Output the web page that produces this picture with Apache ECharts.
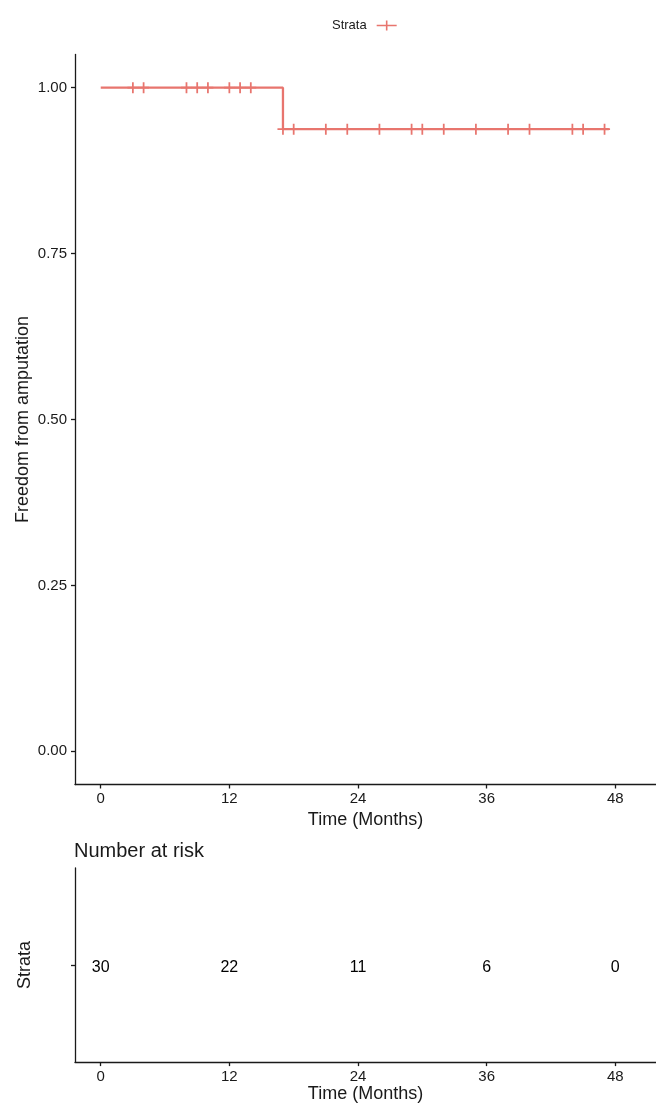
<!DOCTYPE html>
<html>
<head>
<meta charset="utf-8">
<script src="https://cdn.jsdelivr.net/npm/echarts@6/dist/echarts.min.js"></script>
<style>
  html, body { margin: 0; padding: 0; background: #fff; }
  #main { width: 656px; height: 1104px; }
</style>
</head>
<body>
<div id="main"></div>
<script>
// KM step curve (time in months, survival)
var survTimes = [0, 17, 47.4];
var survValues = [1, 0.9375, 0.9375];
// censored observations
var censorTimes = [3, 4, 8, 9, 10, 12, 13, 14, 17, 18, 21, 23, 26, 29, 30, 32, 35, 38, 40, 44, 45, 47];
// number at risk table
var riskTimes = [0, 12, 24, 36, 48];
var riskCounts = [30, 22, 11, 6, 0];
var xTicks = [0, 12, 24, 36, 48];
var yTicks = [0, 0.25, 0.5, 0.75, 1];

var red = '#E8756E';
var ink = '#1a1a1a';
var font = 'Liberation Sans, Arial, Helvetica, sans-serif';

function survAt(t) {
  var s = survValues[0];
  for (var i = 0; i < survTimes.length; i++) {
    if (survTimes[i] <= t) s = survValues[i];
  }
  return s;
}

var curve = survTimes.map(function (t, i) { return [t, survValues[i]]; });
var censors = censorTimes.map(function (t) { return [t, survAt(t)]; });
var risk = riskTimes.map(function (t, i) { return [t, 1, riskCounts[i]]; });

var plusMark = 'path://M0,4.2 L10,4.2 L10,5.8 L0,5.8 Z M4.2,0 L5.8,0 L5.8,10 L4.2,10 Z';
var legendMark = 'path://M0,4.2 L20,4.2 L20,5.8 L0,5.8 Z M9.2,0 L10.8,0 L10.8,10 L9.2,10 Z';

function xAxisFor(gridIndex, gap) {
  return {
    gridIndex: gridIndex,
    type: 'value',
    min: -2.4,
    max: 51.8,
    name: 'Time (Months)',
    nameLocation: 'middle',
    nameGap: gap,
    nameTextStyle: { color: ink, fontSize: 18, fontFamily: font },
    axisLine: { show: true, onZero: false, lineStyle: { color: ink, width: 1.3 } },
    axisTick: { show: true, length: 4, customValues: xTicks, lineStyle: { color: ink, width: 1.3 } },
    axisLabel: { customValues: xTicks, margin: 7, color: ink, fontSize: 15, fontFamily: font },
    splitLine: { show: false }
  };
}

var chart = echarts.init(document.getElementById('main'));

var option = {
  animation: false,
  backgroundColor: '#fff',
  title: {
    text: 'Number at risk',
    left: 69,
    top: 836,
    textStyle: { color: ink, fontSize: 20, fontWeight: 'normal', fontFamily: font }
  },
  legend: {
    data: ['Strata'],
    left: 327,
    top: 14,
    align: 'right',
    itemWidth: 20,
    itemHeight: 10,
    icon: legendMark,
    itemStyle: { color: red, opacity: 1 },
    textStyle: { color: ink, fontSize: 13, fontFamily: font, padding: [0, 5, 0, 0] }
  },
  grid: [
    { left: 75, right: 0, top: 54.5, height: 730 },
    { left: 75, right: 0, top: 868, height: 195 }
  ],
  xAxis: [xAxisFor(0, 26), xAxisFor(1, 22)],
  yAxis: [
    {
      gridIndex: 0,
      type: 'value',
      min: -0.05,
      max: 1.05,
      name: 'Freedom from amputation',
      nameLocation: 'middle',
      nameGap: 43,
      nameMoveOverlap: false,
      nameTextStyle: { color: ink, fontSize: 18, fontFamily: font },
      axisLine: { show: true, onZero: false, lineStyle: { color: ink, width: 1.3 } },
      axisTick: { show: true, length: 4, customValues: yTicks, lineStyle: { color: ink, width: 1.3 } },
      axisLabel: {
        customValues: yTicks, margin: 8, color: ink, fontSize: 15, fontFamily: font,
        formatter: function (v) { return v.toFixed(2); }
      },
      splitLine: { show: false }
    },
    {
      gridIndex: 1,
      type: 'value',
      min: 0,
      max: 2,
      name: 'Strata',
      nameLocation: 'middle',
      nameGap: 41,
      nameTextStyle: { color: ink, fontSize: 18, fontFamily: font },
      axisLine: { show: true, onZero: false, lineStyle: { color: ink, width: 1.3 } },
      axisTick: { show: true, length: 4, customValues: [1], lineStyle: { color: ink, width: 1.3 } },
      axisLabel: { show: false },
      splitLine: { show: false }
    }
  ],
  series: [
    {
      name: 'Strata',
      type: 'line',
      xAxisIndex: 0,
      yAxisIndex: 0,
      step: 'end',
      data: curve,
      showSymbol: false,
      color: red,
      lineStyle: { color: red, width: 2.3 }
    },
    {
      name: 'censor',
      type: 'scatter',
      xAxisIndex: 0,
      yAxisIndex: 0,
      data: censors,
      symbol: plusMark,
      symbolSize: 11,
      itemStyle: { color: red, opacity: 1 }
    },
    {
      name: 'risk',
      type: 'scatter',
      xAxisIndex: 1,
      yAxisIndex: 1,
      data: risk,
      symbolSize: 0,
      itemStyle: { opacity: 1 },
      label: {
        show: true,
        position: 'inside',
        offset: [0, 3],
        formatter: function (p) { return p.value[2]; },
        color: '#000',
        opacity: 1,
        fontSize: 16,
        fontFamily: font
      }
    }
  ]
};

chart.setOption(option);
</script>
</body>
</html>
